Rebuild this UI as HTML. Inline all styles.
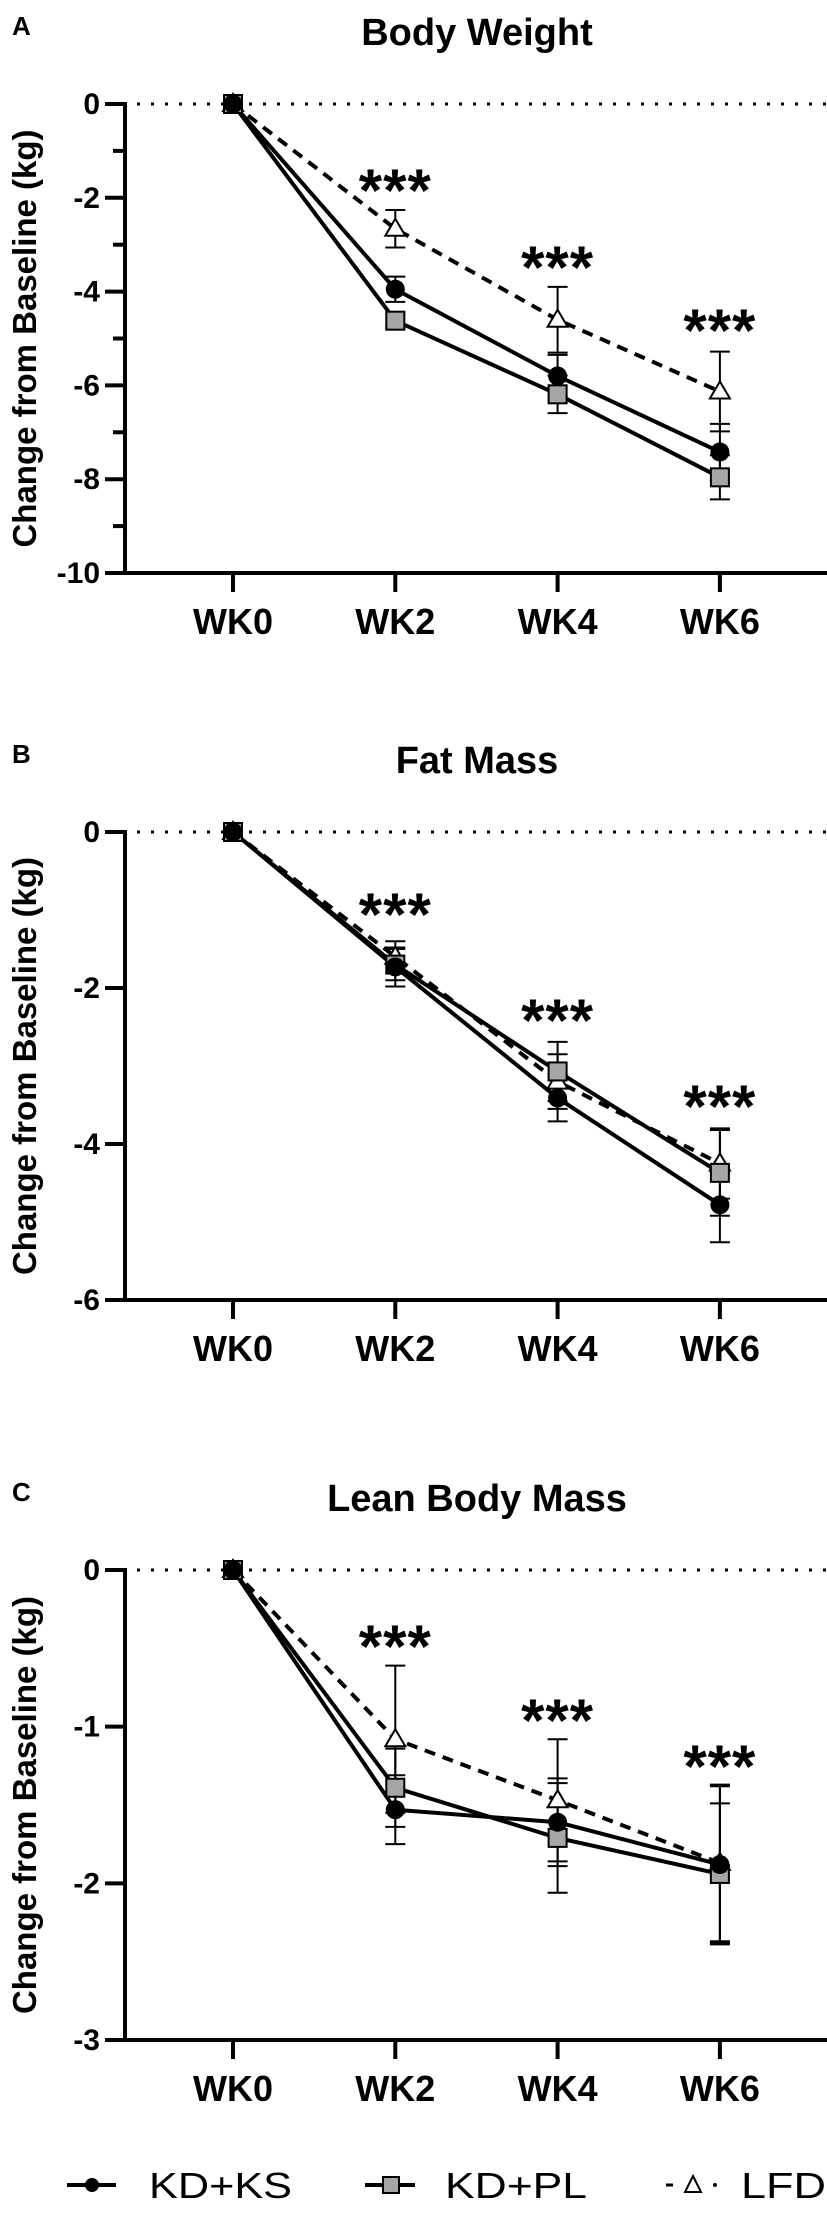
<!DOCTYPE html>
<html><head><meta charset="utf-8"><style>
html,body{margin:0;padding:0;background:#fff;}
svg{display:block;font-family:"Liberation Sans",Arial,sans-serif;}
</style></head><body>
<svg id="fig" width="827" height="2221" viewBox="0 0 827 2221" xmlns="http://www.w3.org/2000/svg"></svg>
<script>
const categories = ["WK0","WK2","WK4","WK6"];
const seriesNames = ["KD+KS","KD+PL","LFD"];
// Panel A: Body Weight
const aTitle = "Body Weight";
const aTicks = [0,-2,-4,-6,-8,-10];
const aKS = [0,-3.95,-5.8,-7.42];
const aKSerr = [0,0.27,0.45,0.6];
const aPL = [0,-4.62,-6.19,-7.96];
const aPLerr = [0,0.15,0.4,0.47];
const aLFD = [0,-2.66,-4.6,-6.13];
const aLFDerr = [0,0.4,0.7,0.85];
// Panel B: Fat Mass
const bTitle = "Fat Mass";
const bTicks = [0,-2,-4,-6];
const bKS = [0,-1.73,-3.41,-4.78];
const bKSerr = [0,0.25,0.3,0.48];
const bPL = [0,-1.7,-3.07,-4.37];
const bPLerr = [0,0.2,0.38,0.55];
const bLFD = [0,-1.6,-3.2,-4.25];
const bLFDerr = [0,0.2,0.35,0.45];
// Panel C: Lean Body Mass
const cTitle = "Lean Body Mass";
const cTicks = [0,-1,-2,-3];
const cKS = [0,-1.53,-1.61,-1.88];
const cKSerr = [0,0.22,0.28,0.5];
const cPL = [0,-1.39,-1.71,-1.94];
const cPLerr = [0,0.25,0.35,0.45];
const cLFD = [0,-1.08,-1.47,-1.87];
const cLFDerr = [0,0.47,0.39,0.5];

const svg = document.getElementById('fig');
const NS = "http://www.w3.org/2000/svg";
function mk(tag, attrs, parent){
  const e = document.createElementNS(NS, tag);
  for (const k in attrs) e.setAttribute(k, attrs[k]);
  (parent||svg).appendChild(e);
  return e;
}
const xPos = i => 233 + i*162.3;

function panel(letter, title, ticks, minorStep, top, bottom, ks, kse, pl, ple, lfd, lfde, star){
  const g = mk('g', {});
  
  
  const ymin = ticks[ticks.length-1];
  const y = v => top + (v/ymin)*(bottom-top);
  const lt = mk('text', {x:12, y:top-69, 'font-size':26, 'font-weight':'bold'}, g);
  lt.textContent = letter;
  
  
  const tt = mk('text', {x:477, y:top-59, 'font-size':38, 'font-weight':'bold', 'text-anchor':'middle'}, g);
  tt.textContent = title;
  
  
  const yt = mk('text', {x:0, y:0, 'font-size':33, 'font-weight':'bold', 'text-anchor':'middle', transform:`translate(36,${(top+bottom)/2}) rotate(-90)`}, g);
  yt.textContent = "Change from Baseline (kg)";
  
  
  const zl = mk('line', {x1:131, x2:827, y1:y(0), y2:y(0), stroke:'#000', 'stroke-width':3, 'stroke-dasharray':'3 11', 'stroke-dashoffset':-6}, g);
  
  
  const ya = mk('line', {x1:125, x2:125, y1:y(0)-2, y2:bottom+2, stroke:'#000', 'stroke-width':4}, g);
  
  
  const xa = mk('line', {x1:123, x2:827, y1:bottom, y2:bottom, stroke:'#000', 'stroke-width':4}, g);
  
  
  for (let v = 0; v >= ymin - 1e-9; v -= minorStep){
    const major = ticks.some(t => Math.abs(t - v) < 1e-6);
    mk('line', {x1: major?105:113, x2:125, y1:y(v), y2:y(v), stroke:'#000', 'stroke-width':4}, g);
  }
  ticks.forEach(t => {
    const tl = mk('text', {x:100, y:y(t)+10, 'font-size':30, 'font-weight':'bold', 'text-anchor':'end'}, g);
    tl.textContent = String(t);
    
    
  });
  categories.forEach((c,i) => {
    mk('line', {x1:xPos(i), x2:xPos(i), y1:bottom, y2:bottom+19, stroke:'#000', 'stroke-width':4}, g);
    const xl = mk('text', {x:xPos(i), y:bottom+61, 'font-size':36, 'font-weight':'bold', 'text-anchor':'middle'}, g);
    xl.textContent = c;
    
    
  });
  function err(vals, errs, name){
    vals.forEach((v,i) => {
      if (!errs[i]) return;
      const x = xPos(i), y1 = y(v-errs[i]), y2 = y(v+errs[i]);
      const eb = mk('path', {d:`M${x},${y1}V${y2}M${x-10},${y1}H${x+10}M${x-10},${y2}H${x+10}`, stroke:'#000', 'stroke-width':2, fill:'none'}, g);
      
      
    });
  }
  err(lfd, lfde, 'lfd'); err(pl, ple, 'kd-pl'); err(ks, kse, 'kd-ks');
  function line(vals, name, dash){
    const d = vals.map((v,i) => (i?'L':'M') + xPos(i) + ',' + y(v)).join('');
    const p = mk('path', {d, stroke:'#000', 'stroke-width':4, fill:'none'}, g);
    if (dash) p.setAttribute('stroke-dasharray', '11 8');
    
    
  }
  line(lfd, 'lfd', true); line(pl, 'kd-pl'); line(ks, 'kd-ks');
  lfd.forEach((v,i) => {
    const x = xPos(i), yy = y(v);
    const m = mk('path', {d:`M${x},${yy-10}L${x+10},${yy+7}L${x-10},${yy+7}Z`, fill:'#fff', stroke:'#000', 'stroke-width':2}, g);
    
    
  });
  pl.forEach((v,i) => {
    const m = mk('rect', {x:xPos(i)-9, y:y(v)-9, width:18, height:18, fill:'#a6a6a6', stroke:'#000', 'stroke-width':2}, g);
    
    
  });
  ks.forEach((v,i) => {
    const m = mk('circle', {cx:xPos(i), cy:y(v), r:9.5, fill:'#000'}, g);
    
    
  });
  star.forEach((sy,i) => {
    const s = mk('text', {x:xPos(i+1), y:sy+32, 'font-size':60, 'font-weight':'bold', 'text-anchor':'middle', 'letter-spacing':'1'}, g);
    s.textContent = "***";
    
    
  });
}
panel('A', aTitle, aTicks, 1, 104, 573, aKS, aKSerr, aPL, aPLerr, aLFD, aLFDerr, [179,256,319]);
panel('B', bTitle, bTicks, 2, 832, 1300, bKS, bKSerr, bPL, bPLerr, bLFD, bLFDerr, [903,1009,1095]);
panel('C', cTitle, cTicks, 1, 1570, 2040, cKS, cKSerr, cPL, cPLerr, cLFD, cLFDerr, [1635,1709,1755]);

const lg = mk('g', {});


const ly = 2185;
const e1 = mk('g', {}, lg);


mk('line', {x1:67, x2:116, y1:ly, y2:ly, stroke:'#000', 'stroke-width':4}, e1);
mk('circle', {cx:92, cy:ly, r:7, fill:'#000'}, e1);
const t1 = mk('text', {x:149, y:ly+13, 'font-size':36, textLength:143, lengthAdjust:'spacingAndGlyphs'}, e1);
t1.textContent = seriesNames[0];
const e2 = mk('g', {}, lg);


mk('line', {x1:365, x2:415, y1:ly, y2:ly, stroke:'#000', 'stroke-width':4}, e2);
mk('rect', {x:383, y:ly-8, width:16, height:16, fill:'#a6a6a6', stroke:'#000', 'stroke-width':2}, e2);
const t2 = mk('text', {x:445, y:ly+13, 'font-size':36, textLength:142, lengthAdjust:'spacingAndGlyphs'}, e2);
t2.textContent = seriesNames[1];
const e3 = mk('g', {}, lg);


mk('line', {x1:666, x2:673, y1:ly, y2:ly, stroke:'#000', 'stroke-width':3}, e3);
mk('path', {d:`M693,${ly-9}L701,${ly+7}L685,${ly+7}Z`, fill:'#fff', stroke:'#000', 'stroke-width':2}, e3);
mk('circle', {cx:715, cy:ly, r:2, fill:'#000'}, e3);
const t3 = mk('text', {x:741, y:ly+13, 'font-size':36, textLength:85, lengthAdjust:'spacingAndGlyphs'}, e3);
t3.textContent = seriesNames[2];
</script>
</body></html>
